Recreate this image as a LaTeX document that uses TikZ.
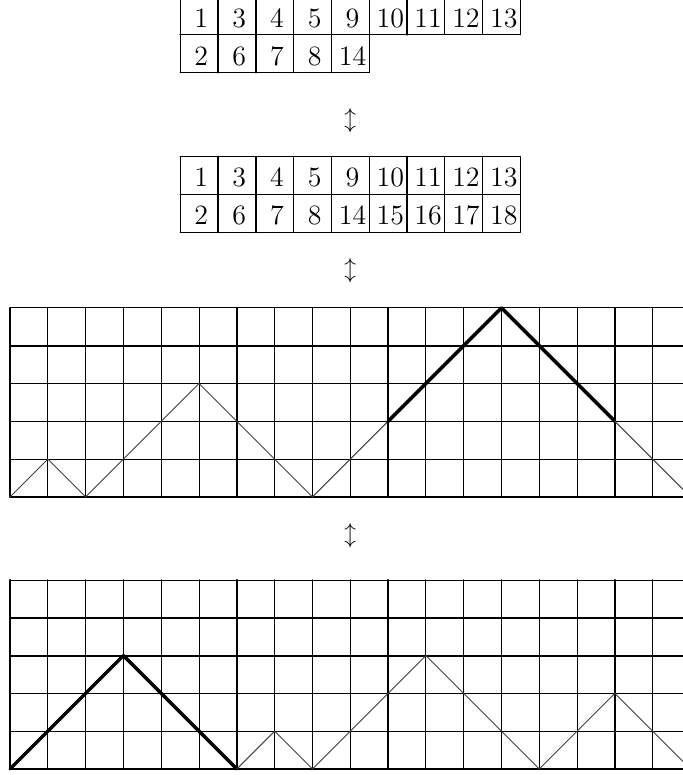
\documentclass[tikz,border=0pt]{standalone}
\begin{document}
\begin{tikzpicture}[x=0.57cm,y=0.57cm,line cap=round,line join=round,
	entry/.style={anchor=base,inner sep=0pt,font=\large},
	bold/.style={line width=0.8pt},
	pathbold/.style={line width=1.5pt},
	paththin/.style={line width=0.4pt,color=black!75}]
	\useasboundingbox (-0.265,-0.159) rectangle (17.8,20.34);
	\clip (-0.265,-0.159) rectangle (17.8,20.34);
	\begin{scope}[shift={(4.5,18.42)}]
		\draw[step=1] (0,0) grid (5,1);
		\draw[step=1] (0,1) grid (9,2);
		\draw[bold] (1,0)--(1,2) (2,0)--(2,2) (6,1)--(6,2);
		\foreach \n [count=\i] in {1,3,4,5,9,10,11,12,13}
		\node[entry] (ta\i) at (\i-0.44,1.2) {\n};
		\foreach \n [count=\i] in {2,6,7,8,14}
		\node[entry] (tb\i) at (\i-0.44,0.2) {\n};
	\end{scope}
	\node (ar1) at (9,17.16) {$\updownarrow$};
	\begin{scope}[shift={(4.5,14.2)}]
		\draw[step=1] (0,0) grid (9,2);
		\draw[bold] (1,0)--(1,2) (2,0)--(2,2) (6,0)--(6,2);
		\foreach \n [count=\i] in {1,3,4,5,9,10,11,12,13}
		\node[entry] (sa\i) at (\i-0.44,1.2) {\n};
		\foreach \n [count=\i] in {2,6,7,8,14,15,16,17,18}
		\node[entry] (sb\i) at (\i-0.44,0.2) {\n};
	\end{scope}
	\node (ar2) at (9,13.17) {$\updownarrow$};
	\begin{scope}[shift={(0,7.196)}]
		\draw[step=1] (0,0) grid (18,5);
		\draw[bold] (0,0)--(18,0) (0,4)--(18,4);
		\foreach \x in {0,6,10,16}
		\draw[bold] (\x,0)--(\x,5);
		\draw[paththin] (0,0)--(1,1)--(2,0)--(5,3)--(8,0)--(10,2);
		\draw[pathbold] (10,2)--(13,5)--(16,2);
		\draw[paththin] (16,2)--(18,0);
	\end{scope}
	\node (ar3) at (9,6.18) {$\updownarrow$};
	\begin{scope}
		\draw[step=1] (0,0) grid (18,5);
		\draw[bold] (0,0)--(18,0) (0,3)--(18,3) (0,4)--(18,4);
		\foreach \x in {0,6,10,16}
		\draw[bold] (\x,0)--(\x,5);
		\draw[pathbold] (0,0)--(3,3)--(6,0);
		\draw[paththin] (6,0)--(7,1)--(8,0)--(11,3)--(14,0)--(16,2)--(18,0);
	\end{scope}
\end{tikzpicture}
\end{document}
